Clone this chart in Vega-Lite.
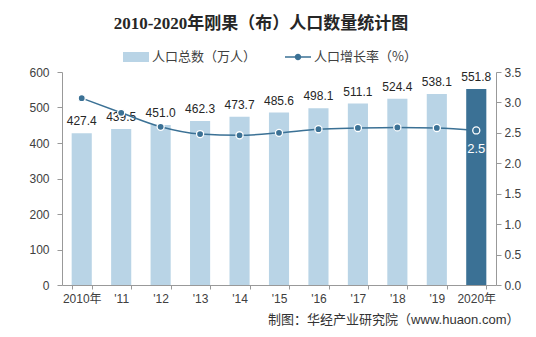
{
  "$schema": "https://vega.github.io/schema/vega-lite/v6.json",
  "width": 434,
  "height": 213,
  "autosize": "none",
  "padding": {"left": 62, "top": 72, "right": 40, "bottom": 52},
  "background": "white",
  "title": {
    "text": "2010-2020年刚果（布）人口数量统计图",
    "font": "Liberation Serif, Noto Sans CJK SC",
    "fontSize": 17,
    "fontWeight": "bold",
    "color": "#262626",
    "anchor": "middle",
    "dx": -18,
    "offset": 11
  },
  "config": {
    "view": {"stroke": null},
    "font": "Liberation Sans, Noto Sans CJK SC"
  },
  "data": {
    "values": [
      {"label": "2010年", "pop": 427.4, "rate": 3.07},
      {"label": "'11", "pop": 439.5, "rate": 2.83},
      {"label": "'12", "pop": 451.0, "rate": 2.60},
      {"label": "'13", "pop": 462.3, "rate": 2.48},
      {"label": "'14", "pop": 473.7, "rate": 2.46},
      {"label": "'15", "pop": 485.6, "rate": 2.50},
      {"label": "'16", "pop": 498.1, "rate": 2.56},
      {"label": "'17", "pop": 511.1, "rate": 2.58},
      {"label": "'18", "pop": 524.4, "rate": 2.59},
      {"label": "'19", "pop": 538.1, "rate": 2.58},
      {"label": "2020年", "pop": 551.8, "rate": 2.54}
    ]
  },
  "encoding": {
    "x": {
      "field": "label",
      "type": "nominal",
      "sort": null,
      "scale": {"paddingInner": 0.49, "paddingOuter": 0.245},
      "axis": {
        "labelAngle": 0,
        "tickBand": "extent",
        "domainColor": "#999999",
        "tickColor": "#999999",
        "tickSize": 4,
        "labelPadding": 4,
        "labelFontSize": 12,
        "labelColor": "#404040",
        "title": "制图：华经产业研究院（www.huaon.com）",
        "titleFontSize": 13,
        "titleFontWeight": "normal",
        "titleColor": "#333333",
        "titleAnchor": "end",
        "titleAlign": "right",
        "titleBaseline": "middle",
        "titleX": 457,
        "titleY": 34
      }
    }
  },
  "layer": [
    {
      "encoding": {
        "y": {
          "field": "pop",
          "type": "quantitative",
          "scale": {"domain": [0, 600], "nice": false},
          "axis": {
            "values": [0, 100, 200, 300, 400, 500, 600],
            "grid": false,
            "title": null,
            "domainColor": "#999999",
            "tickColor": "#999999",
            "tickSize": 5,
            "labelPadding": 8,
            "labelFontSize": 12,
            "labelColor": "#404040"
          }
        }
      },
      "layer": [
        {
          "mark": {"type": "bar"},
          "encoding": {
            "color": {
              "condition": {"test": "datum.label === '2020年'", "value": "#3b7195"},
              "datum": "人口总数（万人）",
              "scale": {
                "domain": ["人口总数（万人）", "人口增长率（%）"],
                "range": ["#b9d4e6", "#3b7195"]
              },
              "legend": {
                "orient": "none",
                "legendX": 61,
                "legendY": -28,
                "direction": "horizontal",
                "title": null,
                "labelFontSize": 13,
                "labelColor": "#404040",
                "labelFont": "Noto Sans CJK SC",
                "symbolSize": 676,
                "columnPadding": 28,
                "labelOffset": 3,
                "labelLimit": 200,
                "encode": {
                  "symbols": {
                    "update": {
                      "shape": {"signal": "datum.value === '人口总数（万人）' ? 'M-1,-0.385H1V0.385H-1Z' : 'M-1,-0.06H1V0.06H-1Z M0.25,0A0.25,0.25 0 1,1 -0.25,0A0.25,0.25 0 1,1 0.25,0Z'"},
                      "fill": {"signal": "datum.value === '人口总数（万人）' ? {gradient: 'linear', x1: 0, y1: 0, x2: 0, y2: 1, stops: [{offset: 0, color: '#b9d4e6'}, {offset: 0.5, color: '#b9d4e6'}, {offset: 0.5, color: '#3b7195'}, {offset: 1, color: '#3b7195'}]} : '#3b7195'"},
                      "stroke": {"value": "transparent"},
                      "strokeWidth": {"value": 0},
                      "opacity": {"value": 1}
                    }
                  }
                }
              }
            }
          }
        },
        {
          "mark": {"type": "text", "baseline": "bottom", "dy": -5, "fontSize": 12, "color": "#262626"},
          "encoding": {"text": {"field": "pop", "type": "quantitative", "format": ".1f"}}
        }
      ]
    },
    {
      "encoding": {
        "y": {
          "field": "rate",
          "type": "quantitative",
          "scale": {"domain": [0, 3.5], "nice": false},
          "axis": {
            "orient": "right",
            "values": [0, 0.5, 1, 1.5, 2, 2.5, 3, 3.5],
            "format": ".1f",
            "grid": false,
            "title": null,
            "domainColor": "#999999",
            "tickColor": "#999999",
            "tickSize": 5,
            "labelPadding": 3,
            "labelFontSize": 12,
            "labelColor": "#404040"
          }
        }
      },
      "layer": [
        {
          "mark": {"type": "line", "interpolate": "monotone", "strokeWidth": 1.5},
          "encoding": {"color": {"datum": "人口增长率（%）"}}
        },
        {
          "mark": {"type": "point", "filled": true, "size": 50, "stroke": "white", "strokeWidth": 1.3, "opacity": 1},
          "encoding": {"color": {"datum": "人口增长率（%）"}}
        },
        {
          "transform": [{"filter": "datum.label === '2020年'"}],
          "mark": {"type": "text", "color": "white", "fontSize": 13, "baseline": "middle", "dy": 19},
          "encoding": {"text": {"field": "rate", "type": "quantitative", "format": ".1f"}}
        }
      ]
    }
  ],
  "resolve": {"scale": {"y": "independent"}}
}
